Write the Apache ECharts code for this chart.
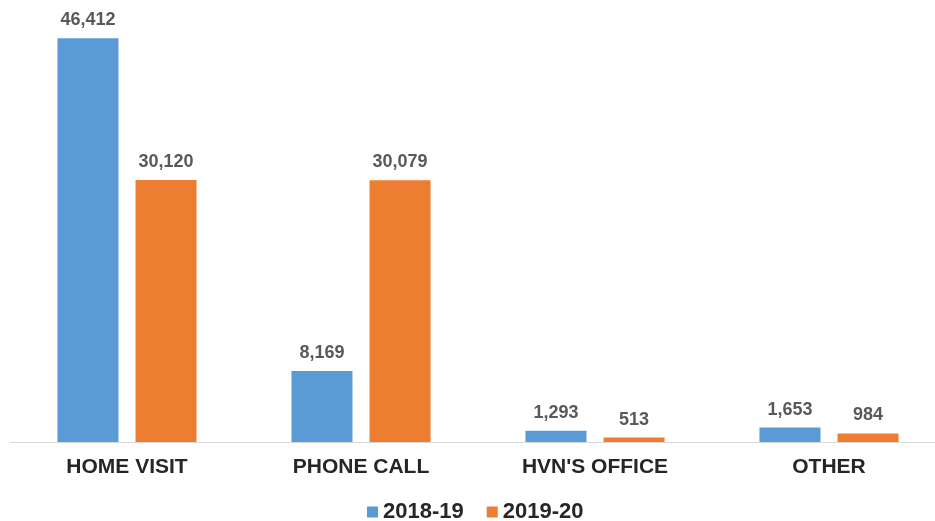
<!DOCTYPE html>
<html>
<head>
<meta charset="utf-8">
<script src="https://cdn.jsdelivr.net/npm/echarts@6/dist/echarts.min.js"></script>
<style>
  html, body { margin: 0; padding: 0; background: #fff; overflow: hidden; }
  #chart { width: 946px; height: 521px; }
</style>
</head>
<body>
<div id="chart"></div>
<script>
// Contact types and counts per year
const categories = ["HOME VISIT", "PHONE CALL", "HVN'S OFFICE", "OTHER"];
const seriesNames = ["2018-19", "2019-20"];
const values2018 = [46412, 8169, 1293, 1653];
const values2019 = [30120, 30079, 513, 984];
const seriesColors = ["#5B9BD5", "#ED7D31"];

const font = "'Liberation Sans', Arial, sans-serif";
const chart = echarts.init(document.getElementById('chart'));

function makeSeries(name, data, color) {
  return {
    name: name,
    type: 'bar',
    data: data,
    barWidth: 61,
    barGap: '28%',
    itemStyle: { color: color },
    label: {
      show: true,
      position: 'top',
      distance: 9,
      color: '#595959',
      fontFamily: font,
      fontWeight: 'bold',
      fontSize: 18,
      formatter: p => p.value.toLocaleString('en-US')
    }
  };
}

chart.setOption({
  animation: false,
  grid: { left: 10, right: 0, top: 7, bottom: 79, containLabel: false },
  legend: {
    data: seriesNames,
    left: 367,
    top: 501,
    padding: 0,
    icon: 'rect',
    itemWidth: 11,
    itemHeight: 11,
    itemGap: 23,
    textStyle: { color: '#262626', fontFamily: font, fontWeight: 'bold', fontSize: 22 }
  },
  xAxis: {
    type: 'category',
    data: categories,
    axisLine: { lineStyle: { color: '#D9D9D9', width: 1 } },
    axisTick: { show: false },
    axisLabel: { margin: 15, color: '#262626', fontFamily: font, fontWeight: 'bold', fontSize: 21 }
  },
  yAxis: {
    type: 'value',
    min: 0,
    max: 50000,
    show: false,
    splitLine: { show: false }
  },
  series: [
    makeSeries(seriesNames[0], values2018, seriesColors[0]),
    makeSeries(seriesNames[1], values2019, seriesColors[1])
  ]
});
</script>
</body>
</html>
